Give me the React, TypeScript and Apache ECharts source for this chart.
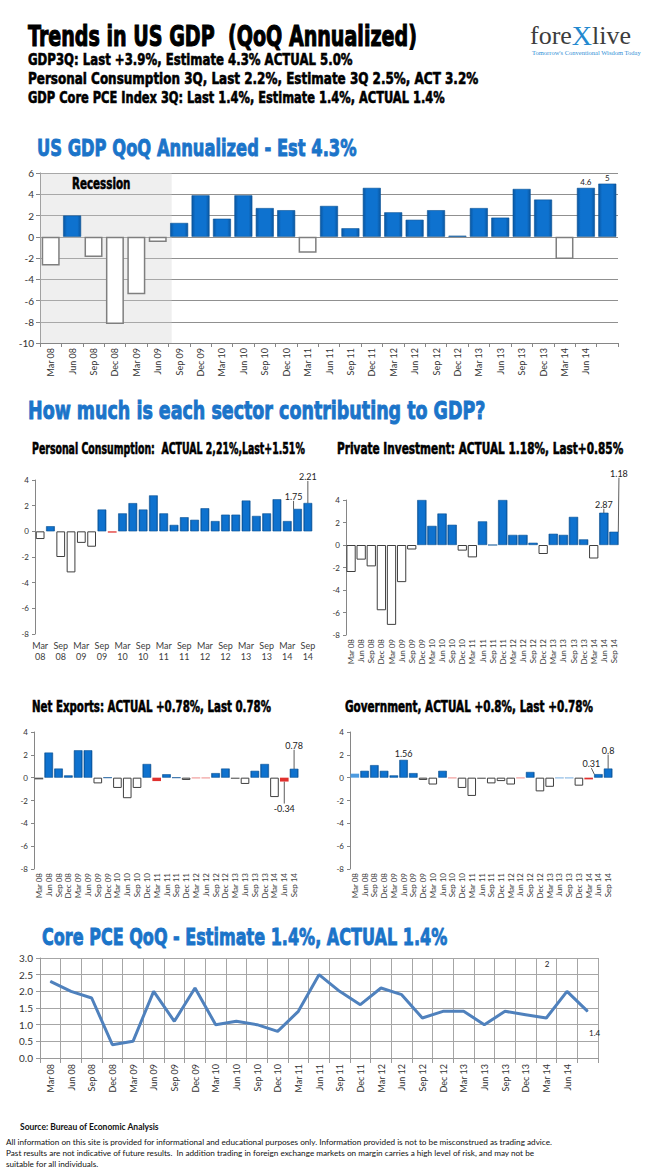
import React, { useEffect, useRef } from 'react';
import * as echarts from 'echarts';

// ---------------- data ----------------
const quarters = ['Mar 08', 'Jun 08', 'Sep 08', 'Dec 08', 'Mar 09', 'Jun 09', 'Sep 09', 'Dec 09', 'Mar 10', 'Jun 10', 'Sep 10', 'Dec 10', 'Mar 11', 'Jun 11', 'Sep 11', 'Dec 11', 'Mar 12', 'Jun 12', 'Sep 12', 'Dec 12', 'Mar 13', 'Jun 13', 'Sep 13', 'Dec 13', 'Mar 14', 'Jun 14', 'Sep 14'];

const gdpQoQ = [-2.7, 2.0, -1.9, -8.2, -5.4, -0.5, 1.3, 3.9, 1.7, 3.9, 2.7, 2.5, -1.5, 2.9, 0.8, 4.6, 2.3, 1.6, 2.5, 0.1, 2.7, 1.8, 4.5, 3.5, -2.1, 4.6, 5.0];
const personalConsumption = [-0.6, 0.4, -2.0, -3.2, -0.9, -1.2, 1.7, -0.1, 1.4, 2.2, 1.7, 2.8, 1.4, 0.5, 1.1, 0.9, 1.8, 0.8, 1.3, 1.3, 2.4, 1.2, 1.4, 2.5, 0.8, 1.75, 2.21];
const privateInvestment = [-2.4, -1.3, -1.9, -5.8, -7.1, -3.3, -0.4, 4.0, 1.7, 2.8, 1.8, -0.5, -1.1, 2.1, 0.0, 4.0, 0.9, 0.9, 0.2, -0.8, 1.0, 0.9, 2.5, 0.5, -1.2, 2.87, 1.18];
const netExports = [-0.15, 2.2, 0.8, 0.2, 2.4, 2.4, -0.5, 0.0, -0.9, -1.8, -0.9, 1.2, -0.3, 0.3, 0.0, -0.2, -0.05, -0.05, 0.4, 0.8, -0.1, -0.55, 0.6, 1.2, -1.7, -0.34, 0.78];
const government = [0.35, 0.6, 1.1, 0.6, 0.2, 1.56, 0.4, -0.2, -0.6, 0.6, -0.05, -0.9, -1.6, -0.1, -0.5, -0.3, -0.6, -0.05, 0.5, -1.2, -0.8, -0.05, -0.05, -0.7, -0.15, 0.31, 0.8];
const corePce = [2.3, 2.0, 1.8, 0.4, 0.5, 2.0, 1.1, 2.1, 1.0, 1.1, 1.0, 0.8, 1.4, 2.5, 2.0, 1.6, 2.1, 1.9, 1.2, 1.4, 1.4, 1.0, 1.4, 1.3, 1.2, 2.0, 1.4];

// recession band, in category units (Mar 08 .. just past Jun 09)
const recessionSpan = [0, 6.15];

// axis ranges / ticks
const gdpAxis = { min: -10, max: 6, interval: 2 };
const sectorAxis = { min: -8, max: 4, interval: 2 };
const pceAxis = { min: 0, max: 3, interval: 0.5 };

// texts
const headerLines = [
  'GDP3Q: Last +3.9%, Estimate 4.3% ACTUAL 5.0%',
  'Personal Consumption 3Q, Last 2.2%, Estimate 3Q 2.5%, ACT 3.2%',
  'GDP Core PCE Index 3Q: Last 1.4%, Estimate 1.4%, ACTUAL 1.4%',
];
const disclaimer = [
  'All information on this site is provided for informational and educational purposes only. Information provided is not to be misconstrued as trading advice.',
  'Past results are not indicative of future results.  In addition trading in foreign exchange markets on margin carries a high level of risk, and may not be',
  'suitable for all individuals.',
];

// ---------------- styling helpers ----------------
const FONT_AX = 'Lato, "Liberation Sans", sans-serif';
const FONT_IMP = '"DejaVu Sans", sans-serif';
const BLUE_TXT = '#1b74c9';
const RED = '#e0312e';
const DARK = '#595959';

const blueGrad = () => ({
  type: 'linear', x: 0, y: 0, x2: 1, y2: 0,
  colorStops: [
    { offset: 0, color: '#0a56a0' },
    { offset: 0.2, color: '#0e72cf' },
    { offset: 0.8, color: '#0e72cf' },
    { offset: 1, color: '#0a56a0' },
  ],
});

type LabelCfg = { pos?: string; dx?: number; dy?: number; size?: number };

function barItems(values: number[], special: Record<number, any>, labels: Record<number, LabelCfg>, negBorder: string, negWidth: number) {
  return values.map((v, i) => {
    const itemStyle = special[i] ?? (v >= 0
      ? { color: blueGrad(), borderColor: '#0a5296', borderWidth: 0.6 }
      : { color: '#ffffff', borderColor: negBorder, borderWidth: negWidth });
    const item: any = { value: v, itemStyle };
    const l = labels[i];
    if (l) {
      item.label = { show: true, position: l.pos ?? 'top', fontFamily: FONT_AX, fontSize: l.size ?? 9, color: '#222', distance: 2 };
      item.labelLine = { show: !!(l.dx || l.dy), lineStyle: { color: '#333', width: 0.8 } };
    }
    return item;
  });
}

function barSeries(idx: number, values: number[], special: Record<number, any>, labels: Record<number, LabelCfg>, gap: string, negBorder: string, negWidth: number) {
  return {
    type: 'bar',
    xAxisIndex: idx,
    yAxisIndex: idx,
    barCategoryGap: gap,
    data: barItems(values, special, labels, negBorder, negWidth),
    labelLayout: (p: any) => {
      const l = labels[p.dataIndex];
      return l ? { dx: l.dx ?? 0, dy: l.dy ?? 0 } : {};
    },
    z: 2,
  };
}

function impact(text: string, x: number, y: number, size: number, sx: number, color = '#000') {
  return {
    type: 'text', x, y, scaleX: sx, z: 100,
    style: {
      text, fontFamily: FONT_IMP, fontWeight: 'bold', fontSize: size, fill: color,
      stroke: color, lineWidth: size * 0.04,
      align: 'left', verticalAlign: 'middle',
    },
  };
}

function plain(text: string, x: number, y: number, size: number, bold = false) {
  return {
    type: 'text', x, y, z: 100,
    style: { text, fontFamily: FONT_AX, fontWeight: bold ? 'bold' : 'normal', fontSize: size, fill: '#111', align: 'left', verticalAlign: 'middle' },
  };
}

const hideLast = (v: string, i: number) => (i === quarters.length - 1 ? '' : v);

function sectorX(idx: number, twoLine: boolean) {
  return {
    type: 'category', gridIndex: idx, data: quarters, position: 'bottom',
    axisLine: { show: false, onZero: false },
    axisTick: { show: false },
    axisLabel: twoLine
      ? { interval: 1, formatter: (v: string) => v.replace(' ', '\n'), fontFamily: FONT_AX, fontSize: 9, lineHeight: 11, color: '#404040', margin: 6 }
      : { interval: 0, rotate: 90, fontFamily: FONT_AX, fontSize: 8, color: '#404040', margin: 4 },
  };
}

function sectorY(idx: number) {
  return {
    type: 'value', gridIndex: idx, ...sectorAxis,
    axisLine: { show: true, lineStyle: { color: '#868686' } },
    axisTick: { show: true, length: 3, lineStyle: { color: '#868686' } },
    splitLine: { show: false },
    axisLabel: { fontFamily: FONT_AX, fontSize: 8, color: '#333', margin: 6 },
  };
}

function buildOption() {
  const grids = [
    { left: 40, top: 173, width: 578, height: 170 },
    { left: 35, top: 480, width: 278, height: 154 },
    { left: 346, top: 500, width: 273, height: 135 },
    { left: 34, top: 732, width: 265, height: 137 },
    { left: 350, top: 732, width: 263, height: 137 },
    { left: 40, top: 958, width: 558, height: 100 },
  ];

  const xAxis: any[] = [
    {
      type: 'category', gridIndex: 0, data: quarters, position: 'bottom',
      axisLine: { show: true, onZero: false, lineStyle: { color: '#868686' } },
      axisTick: { show: true, length: 4, lineStyle: { color: '#868686' } },
      axisLabel: { interval: 0, rotate: 90, fontFamily: FONT_AX, fontSize: 9, color: '#333', margin: 5, formatter: hideLast },
    },
    sectorX(1, true),
    sectorX(2, false),
    sectorX(3, false),
    sectorX(4, false),
    {
      type: 'category', gridIndex: 5, data: quarters, boundaryGap: true,
      axisLine: { show: true, lineStyle: { color: '#9a9a9a' } },
      axisTick: { show: true, length: 5, interval: 0, lineStyle: { color: '#9a9a9a' } },
      splitLine: { show: true, interval: 0, lineStyle: { color: '#a6a6a6' } },
      axisLabel: { interval: 0, rotate: 90, fontFamily: FONT_AX, fontSize: 9, color: '#333', margin: 6, formatter: hideLast },
    },
    { type: 'value', gridIndex: 0, min: 0, max: quarters.length, show: false },
  ];

  const yAxis: any[] = [
    {
      type: 'value', gridIndex: 0, ...gdpAxis,
      axisLine: { show: true, lineStyle: { color: '#868686' } },
      axisTick: { show: true, length: 4, lineStyle: { color: '#868686' } },
      splitLine: { show: true, lineStyle: { color: '#909090', width: 1 } },
      axisLabel: { fontFamily: FONT_AX, fontSize: 10, color: '#333', margin: 6 },
    },
    sectorY(1), sectorY(2), sectorY(3), sectorY(4),
    {
      type: 'value', gridIndex: 5, ...pceAxis,
      axisLine: { show: true, lineStyle: { color: '#9a9a9a' } },
      axisTick: { show: true, length: 4, lineStyle: { color: '#9a9a9a' } },
      splitLine: { show: true, lineStyle: { color: '#a6a6a6' } },
      axisLabel: { fontFamily: FONT_AX, fontSize: 10, color: '#333', margin: 7, formatter: (v: number) => v.toFixed(1) },
    },
  ];

  const series: any[] = [
    barSeries(0, gdpQoQ, {}, { 25: { size: 8 }, 26: { size: 8 } }, '16%', '#7f7f7f', 1.5),
    {
      type: 'scatter', xAxisIndex: 6, yAxisIndex: 0, data: [[1, 0]], symbolSize: 0, silent: true, z: 5,
      markArea: {
        silent: true,
        itemStyle: { color: 'rgba(212,212,212,0.36)' },
        data: [[{ xAxis: recessionSpan[0] }, { xAxis: recessionSpan[1] }]],
      },
    },
    barSeries(1, personalConsumption, { 7: { color: RED } }, { 25: { dx: -4, dy: -6 }, 26: { dx: 0, dy: -20 } }, '15%', '#3f3f3f', 1),
    barSeries(2, privateInvestment, {}, { 25: { dy: -2 }, 26: { dx: 5, dy: -52 } }, '8%', '#3f3f3f', 1),
    barSeries(3, netExports,
      { 0: { color: DARK }, 12: { color: RED }, 16: { color: RED }, 17: { color: RED }, 20: { color: DARK }, 25: { color: RED } },
      { 25: { pos: 'bottom', dy: 20 }, 26: { dy: -17 } }, '12%', '#3f3f3f', 1),
    barSeries(4, government,
      { 0: { color: '#4d9be0' }, 10: { color: RED }, 13: { color: DARK }, 17: { color: RED }, 21: { color: blueGrad() }, 22: { color: blueGrad() }, 24: { color: RED } },
      { 5: {}, 25: { dx: -7, dy: -4 }, 26: { dy: -12 } }, '12%', '#3f3f3f', 1),
    {
      type: 'line', xAxisIndex: 5, yAxisIndex: 5,
      symbol: 'circle', symbolSize: 1, showSymbol: true,
      itemStyle: { color: '#4f81bd' },
      lineStyle: { color: '#4f81bd', width: 3 },
      data: corePce.map((v, i) => {
        if (i === 25) return { value: v, label: { show: true, position: 'top', offset: [-20, -18], fontFamily: FONT_AX, fontSize: 8, color: '#222' } };
        if (i === 26) return { value: v, label: { show: true, position: 'bottom', offset: [7, 12], fontFamily: FONT_AX, fontSize: 8, color: '#222' } };
        return v;
      }),
    },
  ];

  const graphic: any[] = [
    impact('Trends in US GDP  (QoQ Annualized)', 28, 37, 28, 0.682),
    impact(headerLines[0], 28, 59, 16, 0.733),
    impact(headerLines[1], 28, 78, 16, 0.75),
    impact(headerLines[2], 28, 97, 16, 0.714),
    {
      type: 'text', x: 530, y: 35, z: 100,
      style: {
        text: '{a|fore}{b|X}{a|live}', verticalAlign: 'middle', align: 'left',
        rich: {
          a: { fontFamily: '"Liberation Serif", serif', fontSize: 26, fill: '#3d3d3d' },
          b: { fontFamily: '"Liberation Serif", serif', fontSize: 28, fill: '#2389cf' },
        },
      },
    },
    {
      type: 'text', x: 532, y: 52, z: 100,
      style: { text: "Tomorrow's Conventional Wisdom Today", fontFamily: '"Liberation Serif", serif', fontSize: 6.5, fill: '#2f8fd6', verticalAlign: 'middle' },
    },
    impact('US GDP QoQ Annualized - Est 4.3%', 37, 148, 23.5, 0.695, BLUE_TXT),
    impact('Recession', 72, 184, 15, 0.69),
    impact('How much is each sector contributing to GDP?', 28, 410, 24.5, 0.714, BLUE_TXT),
    impact('Personal Consumption:  ACTUAL 2,21%,Last+1.51%', 32, 449, 15, 0.627),
    impact('Private Investment: ACTUAL 1.18%, Last+0.85%', 337, 449, 15, 0.703),
    impact('Net Exports: ACTUAL +0.78%, Last 0.78%', 32, 707, 15, 0.683),
    impact('Government, ACTUAL +0.8%, Last +0.78%', 345, 707, 15, 0.696),
    impact('Core PCE QoQ - Estimate 1.4%, ACTUAL 1.4%', 42, 937, 23.5, 0.683, BLUE_TXT),
    plain('Source: Bureau of Economic Analysis', 20, 1127, 8.5, true),
    plain(disclaimer[0], 6, 1142, 8.2),
    plain(disclaimer[1], 6, 1153, 8.2),
    plain(disclaimer[2], 6, 1164, 8.2),
  ];

  return {
    animation: false,
    backgroundColor: '#ffffff',
    grid: grids,
    xAxis,
    yAxis,
    series,
    graphic,
  };
}

export default function App() {
  const ref = useRef<HTMLDivElement>(null);
  useEffect(() => {
    if (!ref.current) return;
    const chart = echarts.init(ref.current, null, { renderer: 'svg' });
    chart.setOption(buildOption() as any);
    return () => chart.dispose();
  }, []);
  return <div ref={ref} style={{ position: 'absolute', left: 0, top: 0, width: 650, height: 1175, background: '#fff' }} />;
}
